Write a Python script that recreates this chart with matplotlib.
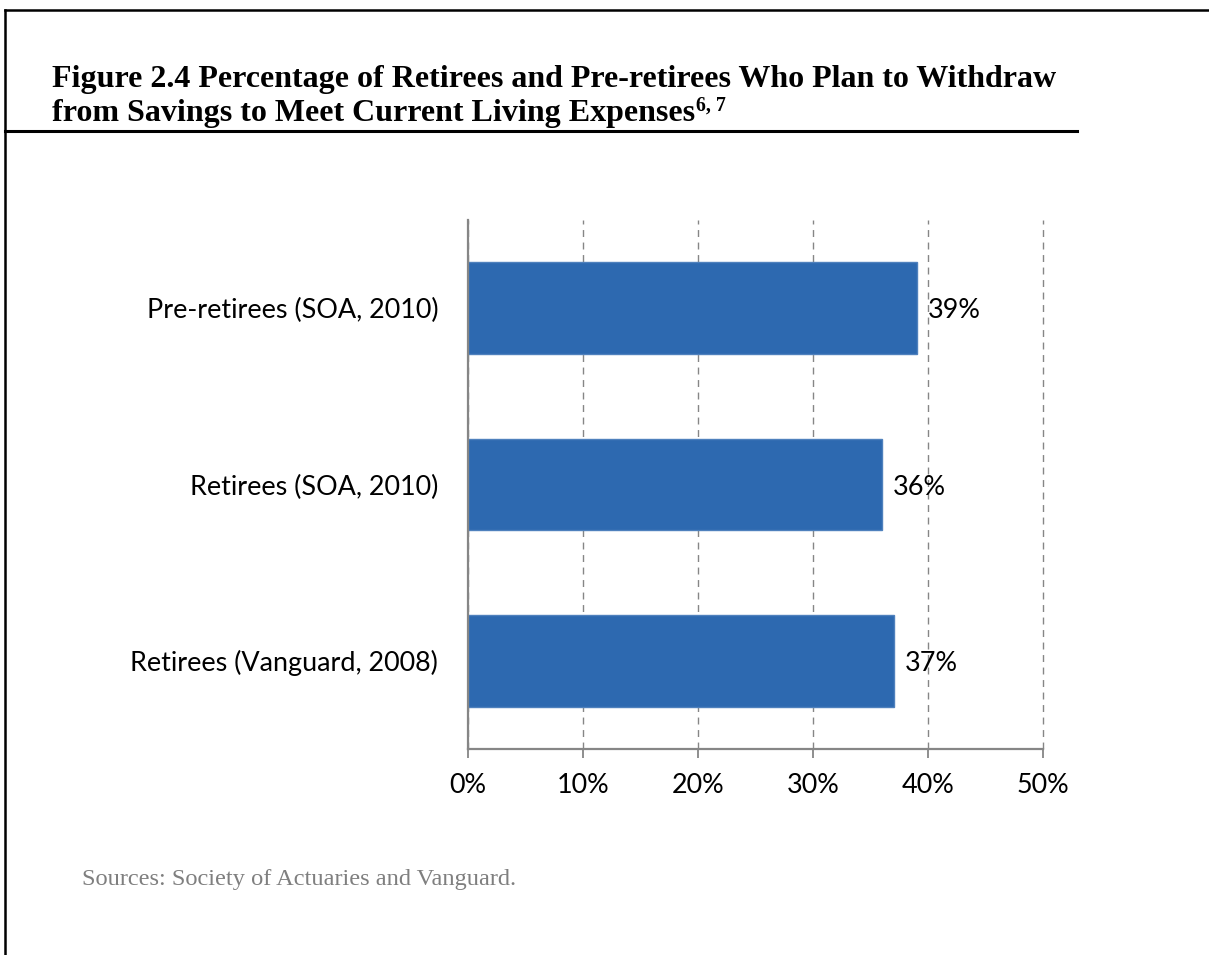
import matplotlib
matplotlib.use("Agg")
import matplotlib.pyplot as plt
from matplotlib.lines import Line2D
from matplotlib.ticker import FuncFormatter

categories = ["Retirees (Vanguard, 2008)", "Retirees (SOA, 2010)", "Pre-retirees (SOA, 2010)"]
values = [37, 36, 39]
x_ticks = [0, 10, 20, 30, 40, 50]
title_line1 = "Figure 2.4 Percentage of Retirees and Pre-retirees Who Plan to Withdraw"
title_line2 = "from Savings to Meet Current Living Expenses"
title_sup = "6, 7"
source_text = "Sources: Society of Actuaries and Vanguard."

W, H = 1209, 955
fig = plt.figure(figsize=(W / 100, H / 100), dpi=100)
fig.patch.set_facecolor("white")
renderer = fig.canvas.get_renderer()


def fx(px):
    return px / W


def fy(py):
    return 1 - py / H


def fit_size(text, family, weight, target_px, start=20.0):
    t = fig.text(0, 0, text, fontsize=start, family=family, fontweight=weight)
    w = t.get_window_extent(renderer=renderer).width
    t.remove()
    return start * target_px / w


# page border (top and left) and title underline
fig.add_artist(Line2D([fx(5), 1.0], [fy(10), fy(10)], color="black", lw=1.8, transform=fig.transFigure))
fig.add_artist(Line2D([fx(5), fx(5)], [fy(10), 0.0], color="black", lw=1.8, transform=fig.transFigure))
fig.add_artist(Line2D([fx(5), fx(1077)], [fy(131), fy(131)], color="black", lw=2.2, transform=fig.transFigure))

serif = ["Liberation Serif", "DejaVu Serif"]
tsize = fit_size(title_line1, serif, "bold", 1005)
t1 = fig.text(fx(52), fy(87), title_line1, fontsize=tsize, fontweight="bold", family=serif,
              va="baseline", ha="left")
t2 = fig.text(fx(52), fy(121), title_line2, fontsize=tsize, fontweight="bold", family=serif,
              va="baseline", ha="left")
bb = t2.get_window_extent(renderer=renderer)
fig.text(bb.x1 / W + 0.001, fy(111), title_sup, fontsize=tsize * 0.62, fontweight="bold",
         family=serif, va="baseline", ha="left")

ssize = fit_size(source_text, serif, "normal", 435)
fig.text(fx(82), fy(885), source_text, fontsize=ssize, family=serif, color="#7f7f7f",
         va="baseline", ha="left")

sans = ["Lato", "DejaVu Sans"]
lsize = fit_size(categories[2], sans, "normal", 293)

ax = fig.add_axes([fx(468), fy(749), fx(1043) - fx(468), (749 - 220) / H])
y = list(range(len(categories)))
ax.barh(y, values, height=0.52, color="#2d69b0", edgecolor="#4f81bd", linewidth=1, zorder=3)
ax.set_xlim(0, 50)
ax.set_ylim(-0.5, len(categories) - 0.5)
ax.set_xticks(x_ticks)
ax.xaxis.set_major_formatter(FuncFormatter(lambda v, p: f"{int(v)}%"))
ax.set_yticks(y)
ax.set_yticklabels(categories)
for lbl in ax.get_xticklabels() + ax.get_yticklabels():
    lbl.set_family(sans)
    lbl.set_fontsize(lsize)
ax.tick_params(axis="x", length=6.5, width=1.3, color="#868686", pad=11)
ax.tick_params(axis="y", length=0, pad=21.5)
ax.grid(axis="x", color="#868686", linestyle=(0, (5, 4)), linewidth=1, zorder=0)
for gl in ax.get_xgridlines():
    gl.set_clip_on(False)
for s in ["top", "right"]:
    ax.spines[s].set_visible(False)
for s in ["left", "bottom"]:
    ax.spines[s].set_color("#868686")
    ax.spines[s].set_linewidth(1.6)
    ax.spines[s].set_zorder(5)
for yi, v in zip(y, values):
    ax.annotate(f"{v}%", xy=(v, yi), xytext=(8, -2), textcoords="offset points",
                va="center", ha="left", fontsize=lsize, family=sans, zorder=4)

fig.savefig("out.png", dpi=100, facecolor="white")
